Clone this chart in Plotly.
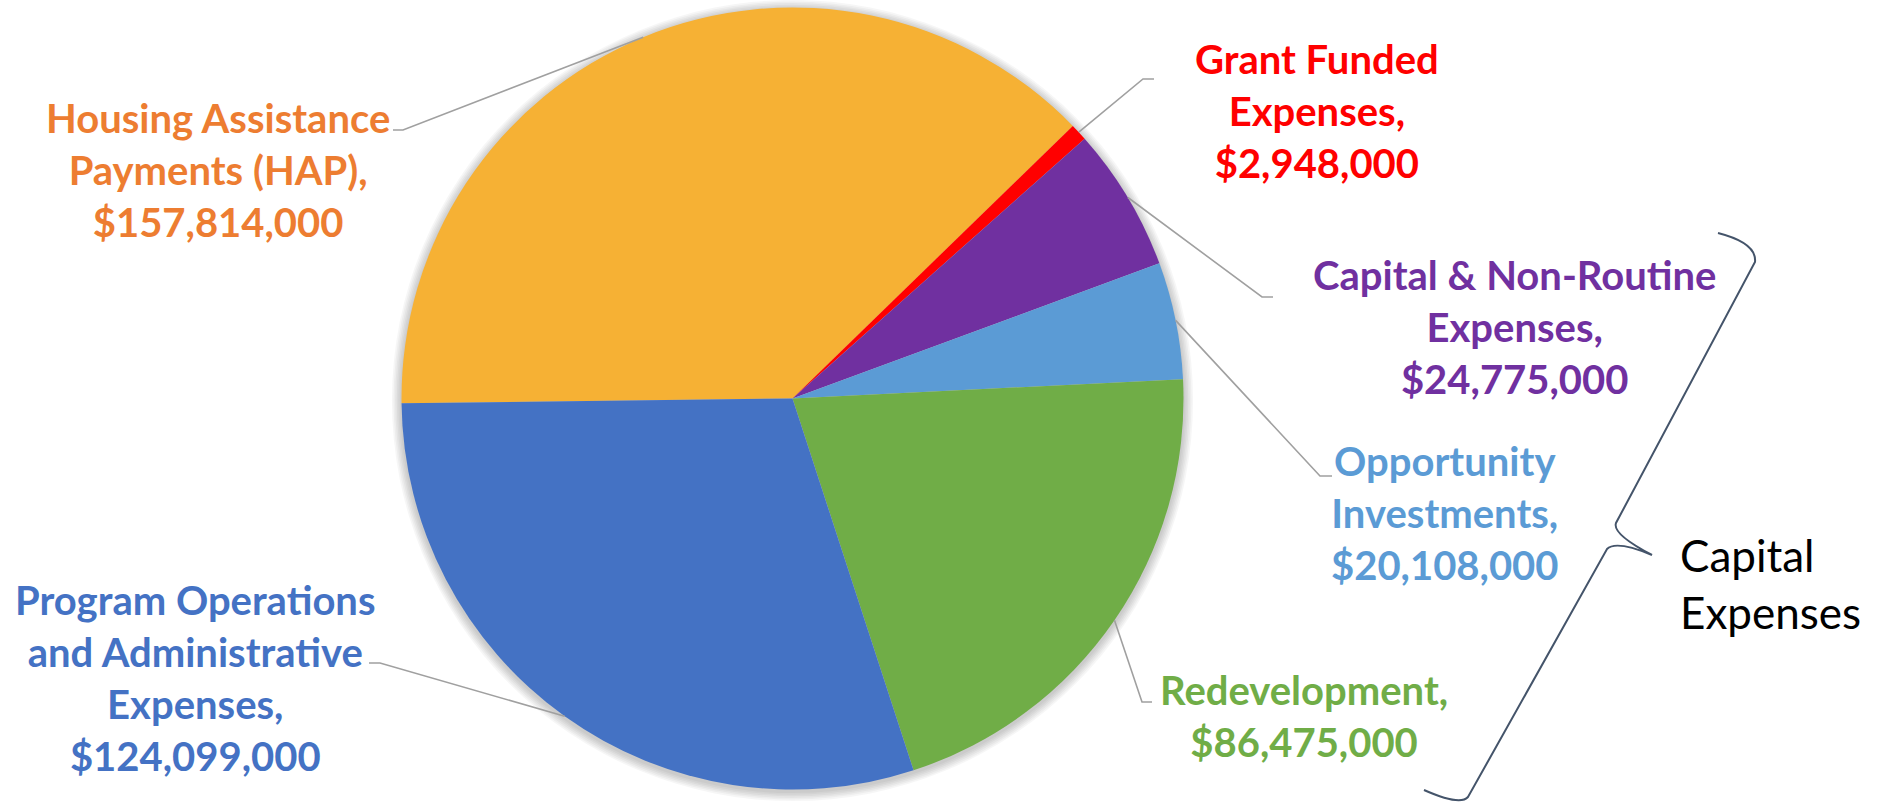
import math
import plotly.graph_objects as go

# ---------------- data ----------------
categories = [
    "Housing Assistance Payments (HAP)",
    "Grant Funded Expenses",
    "Capital & Non-Routine Expenses",
    "Opportunity Investments",
    "Redevelopment",
    "Program Operations and Administrative Expenses",
]
values = [157814000, 2948000, 24775000, 20108000, 86475000, 124099000]
label_lines = [
    ["Housing Assistance", "Payments (HAP),"],
    ["Grant Funded", "Expenses,"],
    ["Capital & Non-Routine", "Expenses,"],
    ["Opportunity", "Investments,"],
    ["Redevelopment,"],
    ["Program Operations", "and Administrative", "Expenses,"],
]
slice_colors = ["#F6B134", "#FF0000", "#7030A0", "#5B9BD5", "#70AD47", "#4472C4"]
text_colors = ["#ED7D31", "#FF0000", "#7030A0", "#5B9BD5", "#70AD47", "#4472C4"]
group_label = "Capital<br>Expenses"

# ---------------- layout geometry (pixels) ----------------
W, H = 1879, 808
CX, CY, R = 792.5, 398.5, 391.0
ROTATION = 269.3

label_pos = [(218, 170), (1317, 111), (1514, 327), (1445, 513), (1304, 716), (195, 678)]
elbows = [(403, 130), (1143, 79), (1262, 297), (1320, 476), (1142, 702), (380, 663)]
ends = [(393, 130), (1154, 79), (1273, 297), (1332, 476), (1152, 702), (369, 663)]


def px(x):
    return x / W


def py(y):
    return 1 - y / H


fig = go.Figure()
fig.add_trace(go.Pie(
    labels=categories,
    values=values,
    sort=False,
    direction="clockwise",
    rotation=ROTATION,
    marker=dict(colors=slice_colors, line=dict(width=0)),
    textinfo="none",
    hoverinfo="none",
    showlegend=False,
    domain=dict(x=[px(CX - R), px(CX + R)], y=[py(CY + R), py(CY - R)]),
))

shapes = []
# soft shadow around the pie
for k in range(6, 0, -1):
    rr = R + k * 1.6
    shapes.append(dict(type="circle", xref="paper", yref="paper",
                       x0=px(CX - rr), x1=px(CX + rr), y0=py(CY + 2 + rr), y1=py(CY + 2 - rr),
                       fillcolor="rgba(0,0,0,0.035)", line=dict(width=0), layer="below"))

# leader lines from slice mid-angles
total = sum(values)
acc = 0
for i, v in enumerate(values):
    mid = math.radians(ROTATION + (acc + v / 2) / total * 360)
    acc += v
    sx, sy = CX + R * math.sin(mid), CY - R * math.cos(mid)
    (ex, ey), (tx, ty) = elbows[i], ends[i]
    path = f"M {px(sx)},{py(sy)} L {px(ex)},{py(ey)} L {px(tx)},{py(ty)}"
    shapes.append(dict(type="path", xref="paper", yref="paper", path=path,
                       line=dict(color="#A0A0A0", width=1.6)))

# curly brace
brace_pts = "M 1718 233 Q 1757 243 1755 262 L 1616 523 Q 1612 534 1652 555 Q 1616 540 1607 549 L 1468 797 Q 1460 806 1424 790"
tok = brace_pts.split()
out = []
i = 0
while i < len(tok):
    t = tok[i]
    if t.isalpha():
        out.append(t)
        i += 1
    else:
        x, y = float(tok[i]), float(tok[i + 1])
        out.append(f"{px(x)},{py(y)}")
        i += 2
shapes.append(dict(type="path", xref="paper", yref="paper", path=" ".join(out),
                   line=dict(color="#44546A", width=2)))

annotations = []
for i, v in enumerate(values):
    txt = "<br>".join(label_lines[i] + [f"${v:,}"])
    x, y = label_pos[i]
    annotations.append(dict(text=f"<b>{txt}</b>", x=px(x), y=py(y), xref="paper", yref="paper",
                            xanchor="center", yanchor="middle", align="center", showarrow=False,
                            font=dict(family="Lato", size=40, color=text_colors[i])))
annotations.append(dict(text=group_label, x=px(1678), y=py(583), xref="paper", yref="paper",
                        xanchor="left", yanchor="middle", align="left", showarrow=False,
                        font=dict(family="Lato", size=44, color="#000000")))

fig.update_layout(
    width=W, height=H,
    margin=dict(l=0, r=0, t=0, b=0),
    paper_bgcolor="white", plot_bgcolor="white",
    shapes=shapes, annotations=annotations,
)

fig.write_html("out.html", config={"displayModeBar": False},
               post_script="document.body.style.margin='0';document.body.style.overflow='hidden';")
